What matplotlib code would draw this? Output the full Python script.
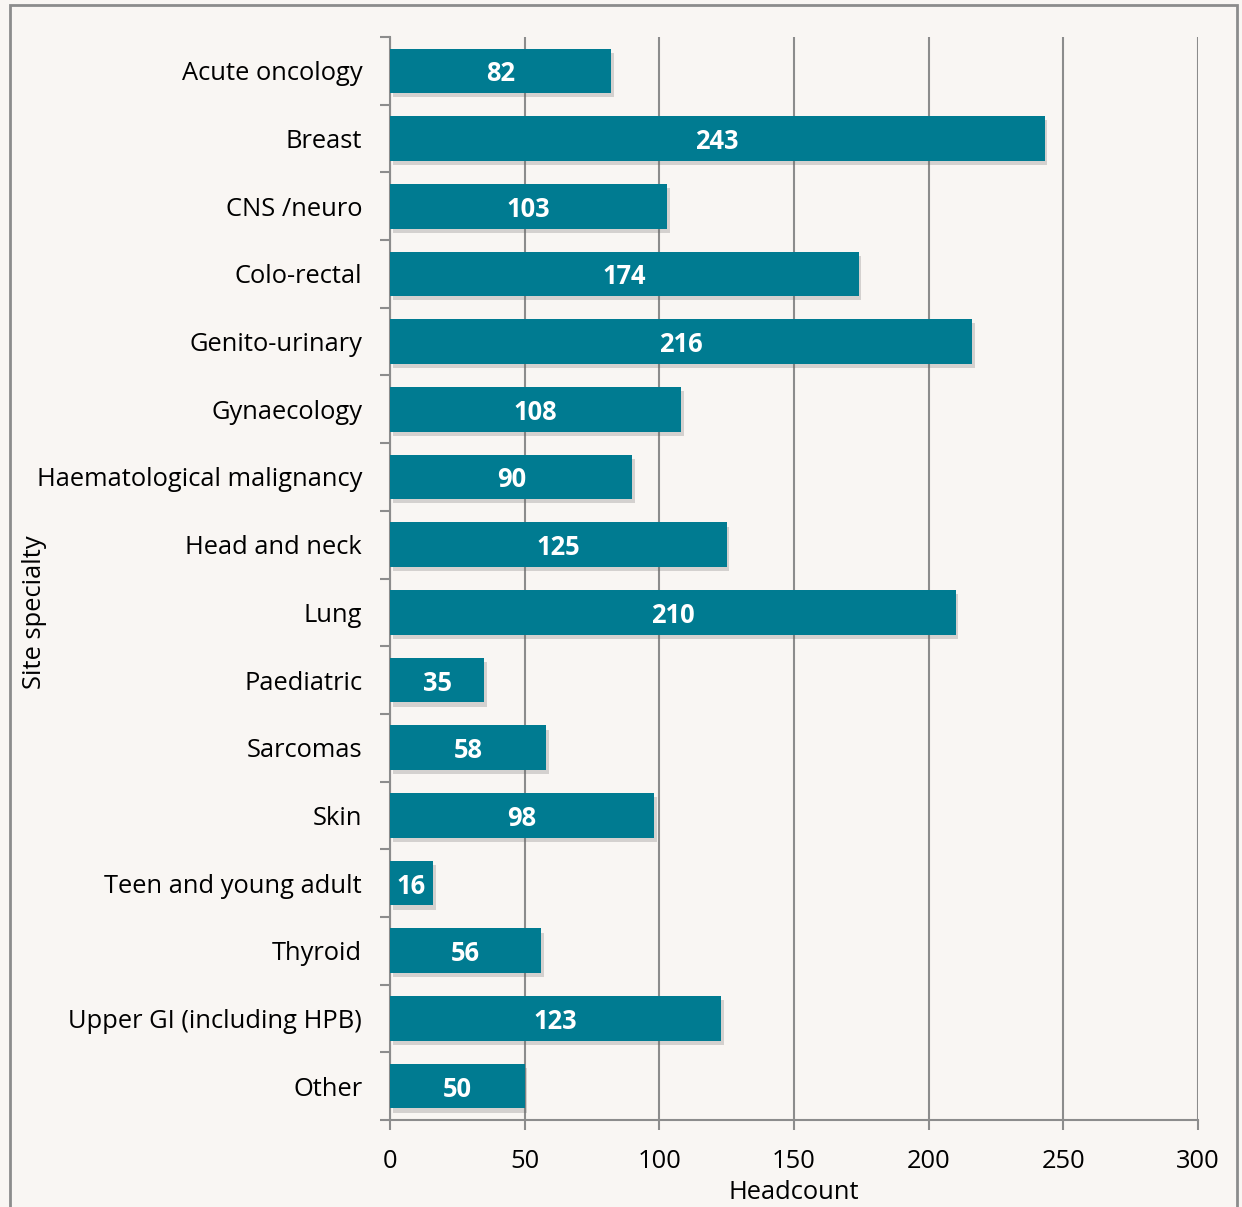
import matplotlib.pyplot as plt
import matplotlib.patheffects as pe
from matplotlib.patches import Rectangle
import numpy as np

# site specialty headcounts
specialties = ['Acute oncology', 'Breast', 'CNS /neuro', 'Colo-rectal', 'Genito-urinary',
               'Gynaecology', 'Haematological malignancy', 'Head and neck', 'Lung',
               'Paediatric', 'Sarcomas', 'Skin', 'Teen and young adult', 'Thyroid',
               'Upper GI (including HPB)', 'Other']
headcount = [82, 243, 103, 174, 216, 108, 90, 125, 210, 35, 58, 98, 16, 56, 123, 50]
x_ticks = [0, 50, 100, 150, 200, 250, 300]

BG = '#f9f6f3'
BAR = '#007b91'
GRID = '#8c8c8c'
FS = 18.4

plt.rcParams['font.family'] = ['Open Sans', 'DejaVu Sans']

fig = plt.figure(figsize=(12.42, 12.07), dpi=100, facecolor=BG)
ax = fig.add_axes([0.314, 0.0721, 0.6506, 0.8972], facecolor=BG)

y = np.arange(len(specialties))
bars = ax.barh(y, headcount, height=0.66, color=BAR, zorder=3)
for b in bars:
    b.set_path_effects([pe.SimplePatchShadow(offset=(2, -3), shadow_rgbFace='#666666', alpha=0.25),
                        pe.Normal()])

for yi, v in zip(y, headcount):
    ax.text(v / 2, yi, str(v), ha='center', va='center_baseline', color='white',
            fontsize=FS, fontweight='bold', zorder=4)

ax.set_ylim(len(specialties) - 0.5, -0.5)
ax.set_xlim(0, 300)
ax.set_xticks(x_ticks)
ax.set_xticklabels([str(t) for t in x_ticks], fontsize=FS)
ax.xaxis.grid(True, color=GRID, linewidth=1.5, zorder=0)

ax.set_yticks(y)
ax.set_yticklabels(specialties, fontsize=FS)
ax.set_yticks(np.arange(len(specialties) + 1) - 0.5, minor=True)
ax.tick_params(axis='y', which='major', length=0, pad=20)
ax.tick_params(axis='y', which='minor', length=7, width=1.5, color=GRID)
ax.tick_params(axis='x', length=7, width=1.5, color=GRID, pad=14)

for s in ['top', 'right']:
    ax.spines[s].set_visible(False)
for s in ['left', 'bottom']:
    ax.spines[s].set_color(GRID)
    ax.spines[s].set_linewidth(1.5)

ax.set_xlabel('Headcount', fontsize=FS, labelpad=4)
fig.text(35 / 1242, 1 - 612 / 1207, 'Site specialty', rotation=90,
         ha='center', va='center', fontsize=FS)

# outer chart frame
fig.patches.append(Rectangle((10 / 1242, -0.01), 1227 / 1242, 1 - 5 / 1207 + 0.01,
                             transform=fig.transFigure, fill=False,
                             edgecolor='#8c8c8c', linewidth=2))

fig.savefig('out.png', dpi=100, facecolor=BG)
